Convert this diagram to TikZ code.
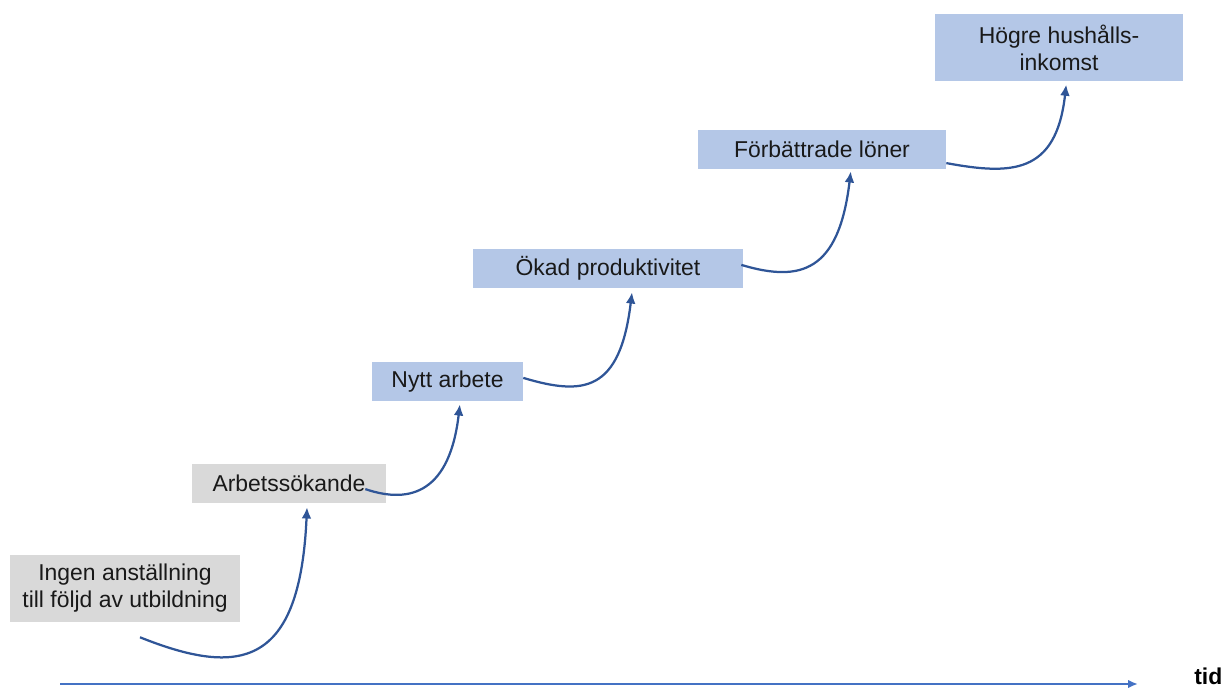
\documentclass[tikz,border=0pt]{standalone}
\usepackage{fontspec}
\setmainfont{Liberation Sans}
\usetikzlibrary{positioning}
\usetikzlibrary{arrows.meta}

\definecolor{boxgray}{HTML}{D9D9D9}
\definecolor{boxblue}{HTML}{B4C7E7}
\definecolor{curveblue}{HTML}{2F5597}
\definecolor{axisblue}{HTML}{4472C4}

\tikzset{
  stagebox/.style={rectangle, inner sep=0pt, align=center, text=black!90,
    font=\fontsize{16.3}{19.2}\selectfont},
  oldbox/.style={stagebox, fill=boxgray},
  newbox/.style={stagebox, fill=boxblue},
  growth/.style={curveblue, line width=1.6pt, -{Latex[length=8pt,width=7pt]}},
}

\begin{document}
\begin{tikzpicture}[x=0.025cm, y=0.025cm]
      \useasboundingbox (0,0) rectangle (1227,688);

      \node[oldbox, minimum width=5.75cm, minimum height=1.675cm] (ingen) at (125,99.5) {Ingen anställning\\till följd av utbildning};
      \node[oldbox, minimum width=4.85cm, minimum height=0.975cm] (sokande) at (289,204.5) {Arbetssökande};
      \node[newbox, minimum width=3.775cm, minimum height=0.975cm] (nytt) at (447.5,306.5) {Nytt arbete};
      \node[newbox, minimum width=6.75cm, minimum height=0.975cm] (okad) at (608,419.5) {Ökad produktivitet};
      \node[newbox, minimum width=6.2cm, minimum height=0.975cm] (loner) at (822,538.5) {Förbättrade löner};
      \node[newbox, minimum width=6.2cm, minimum height=1.675cm] (inkomst) at (1059,640.5) {Högre hushålls-\\inkomst};

      % steps
      \draw[growth] ([xshift=0.375cm,yshift=-0.375cm]ingen.south)
        .. controls +(100,-40) and +(-7,-160) .. ([xshift=0.45cm,yshift=-0.1cm]sokande.south);
      \draw[growth] ([xshift=-0.525cm,yshift=-0.14cm]sokande.east)
        .. controls +(47,-16) and +(-10,-86) .. ([xshift=0.31cm,yshift=-0.075cm]nytt.south);
      \draw[growth] ([yshift=0.09cm]nytt.east)
        .. controls +(60,-18) and +(-12,-100) .. ([xshift=0.6cm,yshift=-0.1cm]okad.south);
      \draw[growth] ([xshift=-0.05cm,yshift=0.09cm]okad.east)
        .. controls +(60,-18) and +(-12,-100) .. ([xshift=0.72cm,yshift=-0.05cm]loner.south);
      \draw[growth] ([yshift=-0.34cm]loner.east)
        .. controls +(65,-12) and +(-10,-90) .. ([xshift=0.18cm,yshift=-0.08cm]inkomst.south);

      % time axis
      \coordinate (t0) at (60,4);
      \coordinate (t1) at (1138,4);
      \draw[axisblue, line width=1.4pt, -{Latex[length=7pt,width=6pt]}] (t0) -- (t1);
      \node[anchor=base west, inner sep=0pt, font=\bfseries\fontsize{16.3}{19.2}\selectfont] (tid) at (1194,3.5) {tid};
\end{tikzpicture}
\end{document}
